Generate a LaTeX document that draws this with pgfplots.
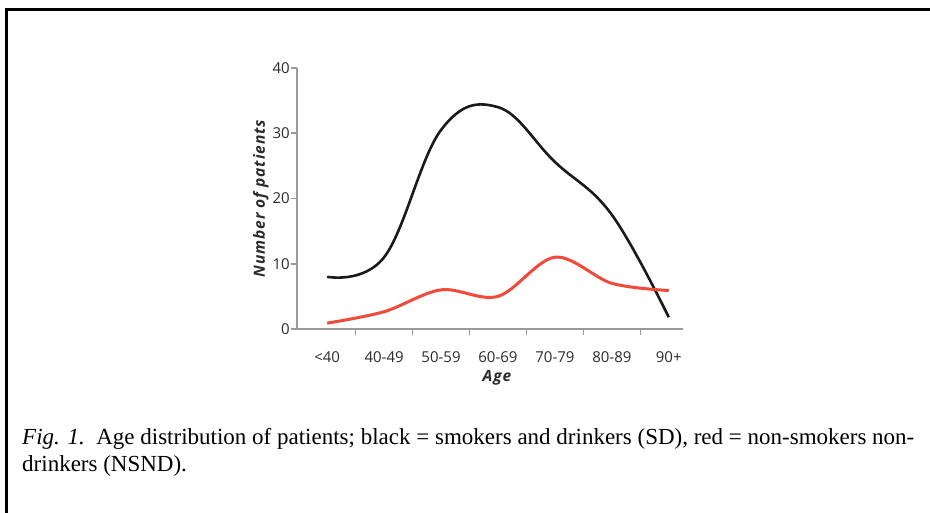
\documentclass[border=0pt]{standalone}
\usepackage{fontspec}
\usepackage{pgfplots}
\pgfplotsset{compat=1.18}
\setmainfont{Liberation Serif}
\newfontfamily\tickfont{Open Sans}
\newfontfamily\labelfont[LetterSpace=6]{Open Sans}
\definecolor{axgrey}{HTML}{9A9A9A}
\definecolor{lblgrey}{HTML}{2A2A2A}
\definecolor{sdblack}{HTML}{1A1A1A}
\definecolor{nsndred}{HTML}{F04A3A}

\begin{document}
\begin{tikzpicture}[x=1bp,y=1bp]
\path[use as bounding box] (0,0) rectangle (930,513);
% frame: top and left edges only
\draw[line width=3.5bp] (6.5,0) -- (6.5,503.5) -- (930,503.5);

\begin{axis}[
    at={(297bp,184bp)}, anchor=south west,
    scale only axis,
    width=386bp, height=261bp,
    xmin=-0.53, xmax=6.25,
    ymin=0, ymax=40,
    axis lines=left,
    axis line style={axgrey, line width=2.2bp, -},
    xtick={0,1,2,3,4,5,6},
    xticklabels={{<40},40-49,50-59,60-69,70-79,80-89,90+},
    minor xtick={0.5,1.5,2.5,3.5,4.5,5.5},
    ytick={0,10,20,30,40},
    tick align=outside,
    major tick length=6bp,
    minor tick length=6bp,
    xtick style={draw=none},
    minor x tick style={draw=axgrey, line width=1.6bp},
    y tick style={draw=axgrey, line width=1.6bp},
    tick label style={font=\tickfont\fontsize{15bp}{17bp}\selectfont, text=lblgrey},
    xticklabel style={anchor=base, yshift=-28bp},
    yticklabel style={anchor=east, inner sep=1bp},
    /pgf/number format/assume math mode=true,
    xlabel={Age},
    ylabel={Number of patients},
    label style={font=\labelfont\bfseries\itshape\fontsize{15.5bp}{17bp}\selectfont, text=lblgrey},
    xlabel style={at={(axis description cs:0.518,-0.188)}, anchor=center},
    ylabel style={at={(axis description cs:-0.094,0.5)}, anchor=center, rotate=0},
    clip=false,
  ]
  % smokers and drinkers (SD)
  \addplot[sdblack, line width=2.6bp, smooth, tension=0.65] coordinates {
    (0,8) (1,11) (2,30.5) (3,34) (4,25.6) (5,17.5) (6,1.8)
  };
  % non-smokers non-drinkers (NSND)
  \addplot[nsndred, line width=3bp, smooth, tension=0.55] coordinates {
    (0,0.9) (1,2.65) (2,6) (3,5) (4,11) (5,7) (6,5.9)
  };
\end{axis}

\node[anchor=base west, inner sep=0pt, font=\fontsize{23bp}{27bp}\selectfont] at (22,68)
  {\textit{Fig. 1.}\ \ Age distribution of patients; black = smokers and drinkers (SD), red = non-smokers non-};
\node[anchor=base west, inner sep=0pt, font=\fontsize{23bp}{27bp}\selectfont] at (22,41)
  {drinkers (NSND).};
\end{tikzpicture}
\end{document}
